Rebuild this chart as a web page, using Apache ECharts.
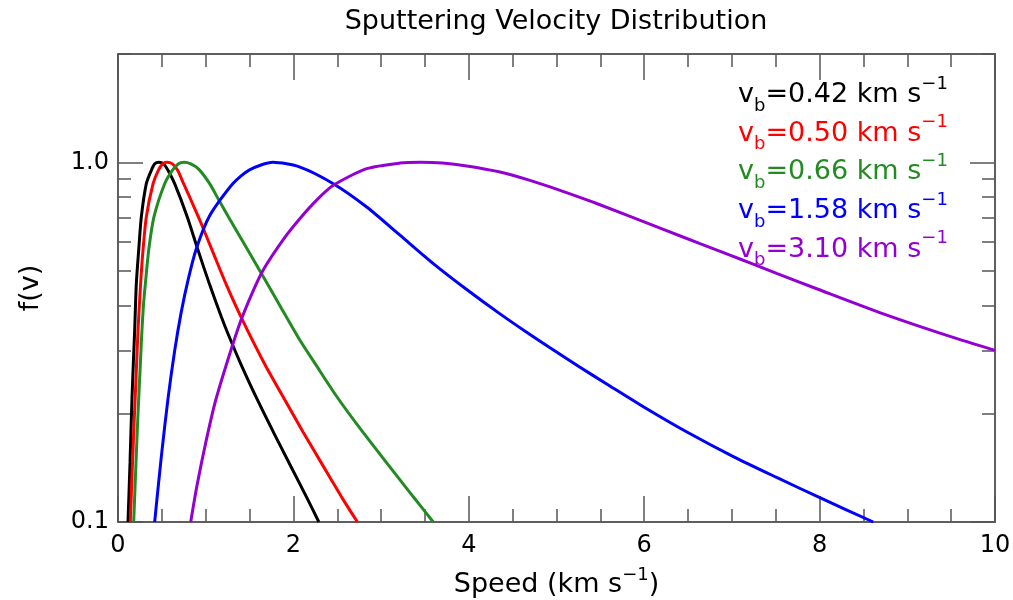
<!DOCTYPE html>
<html>
<head>
<meta charset="utf-8">
<title>Sputtering Velocity Distribution</title>
<script src="https://cdn.jsdelivr.net/npm/echarts@6/dist/echarts.min.js"></script>
<style>
  html, body { margin: 0; padding: 0; background: #fff; }
  #chart { width: 1013px; height: 600px; }
</style>
</head>
<body>
<div id="chart"></div>
<script>
// f(v), pairs of [speed (km/s), f(v)]
const vb042 = [
  [0.114, 0.1], [0.137, 0.146], [0.16, 0.223], [0.19, 0.341], [0.209, 0.46],
  [0.236, 0.57], [0.266, 0.705], [0.323, 0.872], [0.38, 0.95], [0.42, 0.99],
  [0.464, 1.0], [0.52, 0.99], [0.57, 0.95], [0.646, 0.872], [0.79, 0.705],
  [0.912, 0.57], [1.045, 0.457], [1.178, 0.372], [1.247, 0.337], [1.406, 0.273],
  [1.596, 0.217], [1.786, 0.175], [1.976, 0.142], [2.167, 0.115], [2.29, 0.1]
];
const vb050 = [
  [0.14, 0.1], [0.18, 0.18], [0.205, 0.25], [0.228, 0.341], [0.258, 0.46],
  [0.285, 0.57], [0.323, 0.705], [0.40, 0.872], [0.46, 0.95], [0.51, 0.99],
  [0.559, 1.0], [0.62, 0.99], [0.68, 0.95], [0.741, 0.88], [0.84, 0.777],
  [0.931, 0.692], [1.083, 0.562], [1.235, 0.457], [1.406, 0.37], [1.672, 0.275],
  [1.90, 0.219], [2.11, 0.178], [2.34, 0.143], [2.566, 0.1156], [2.73, 0.1]
];
const vb066 = [
  [0.179, 0.1], [0.205, 0.146], [0.228, 0.2], [0.25, 0.26], [0.27, 0.33],
  [0.29, 0.40], [0.312, 0.46], [0.35, 0.57], [0.41, 0.705], [0.532, 0.872],
  [0.62, 0.95], [0.69, 0.99], [0.753, 1.0], [0.83, 0.99], [0.92, 0.957],
  [1.045, 0.872], [1.15, 0.785], [1.26, 0.705], [1.48, 0.57], [1.645, 0.486],
  [1.85, 0.398], [2.075, 0.32], [2.246, 0.276], [2.49, 0.224], [2.76, 0.182],
  [3.064, 0.146], [3.367, 0.1175], [3.595, 0.1]
];
const vb158 = [
  [0.418, 0.1], [0.494, 0.152], [0.57, 0.22], [0.646, 0.299], [0.72, 0.382],
  [0.80, 0.472], [0.893, 0.575], [1.045, 0.71], [1.311, 0.873], [1.5, 0.953],
  [1.767, 1.0], [2.075, 0.97], [2.455, 0.872], [2.836, 0.751], [3.215, 0.627],
  [3.595, 0.523], [3.976, 0.443], [4.356, 0.379], [4.698, 0.332], [4.926, 0.305],
  [5.25, 0.271], [5.572, 0.242], [6.0, 0.2085], [6.503, 0.177], [7.016, 0.152],
  [7.51, 0.133], [7.997, 0.117], [8.612, 0.1]
];
const vb310 = [
  [0.829, 0.1], [0.90, 0.126], [1.0, 0.166], [1.114, 0.218], [1.311, 0.313],
  [1.425, 0.376], [1.645, 0.496], [1.90, 0.617], [2.075, 0.698], [2.265, 0.785],
  [2.455, 0.863], [2.836, 0.96], [3.215, 0.995], [3.45, 1.0], [3.7, 0.995],
  [3.976, 0.977], [4.356, 0.94], [4.698, 0.891], [4.926, 0.854], [5.458, 0.768],
  [6.218, 0.651], [6.636, 0.594], [6.978, 0.552], [7.206, 0.525], [7.51, 0.491],
  [7.967, 0.445], [8.727, 0.379], [9.487, 0.328], [10.0, 0.30]
];

const curves = [vb042, vb050, vb066, vb158, vb310];
const vbLabels = ['0.42', '0.50', '0.66', '1.58', '3.10'];
const curveColors = ['#000000', '#ff0000', '#228b22', '#0000ff', '#9400d3'];

// tick values
const xMajorTicks = [0, 2, 4, 6, 8, 10];
const xMinorTicks = [0.5, 1, 1.5, 2.5, 3, 3.5, 4.5, 5, 5.5, 6.5, 7, 7.5, 8.5, 9, 9.5];
const yMajorTicks = [0.1, 1];
const yMinorTicks = [0.2, 0.3, 0.4, 0.5, 0.6, 0.7, 0.8, 0.9, 2];

const FONT = '"DejaVu Sans", "Liberation Sans", Arial, sans-serif';
const frame = { color: '#555', width: 1.5 };

function xAxisAt(pos, ticks, len, withLabels) {
  return {
    type: 'value',
    position: pos,
    min: 0,
    max: 10,
    interval: 2,
    axisLine: { show: true, onZero: false, lineStyle: frame },
    axisTick: { show: true, inside: true, length: len, customValues: ticks, lineStyle: frame },
    axisLabel: withLabels
      ? { customValues: xMajorTicks, color: '#000', fontSize: 24, fontFamily: FONT, margin: 12 }
      : { show: false },
    splitLine: { show: false }
  };
}

function yAxisAt(pos, ticks, len, withLabels) {
  return {
    type: 'log',
    logBase: 10,
    position: pos,
    min: 0.1,
    max: 2,
    axisLine: { show: true, onZero: false, lineStyle: frame },
    axisTick: { show: true, inside: true, length: len, customValues: ticks, lineStyle: frame },
    axisLabel: withLabels
      ? {
          customValues: yMajorTicks,
          formatter: (v) => Number(v).toFixed(1),
          color: '#000', fontSize: 24, fontFamily: FONT, margin: 9
        }
      : { show: false },
    splitLine: { show: false }
  };
}

const xAxes = [
  xAxisAt('bottom', xMajorTicks, 26, true),
  xAxisAt('bottom', xMinorTicks, 13, false),
  xAxisAt('top', xMajorTicks, 26, false),
  xAxisAt('top', xMinorTicks, 13, false)
];
xAxes[0].name = 'Speed (km s{sup|\u22121})';
xAxes[0].nameLocation = 'middle';
xAxes[0].nameGap = 44;
xAxes[0].nameTextStyle = {
  color: '#000', fontSize: 27, fontFamily: FONT, lineHeight: 38,
  rich: { sup: { fontSize: 18, fontFamily: FONT, lineHeight: 18, verticalAlign: 'top', color: '#000' } }
};

const yAxes = [
  yAxisAt('left', yMajorTicks, 25, true),
  yAxisAt('left', yMinorTicks, 13, false),
  yAxisAt('right', yMajorTicks, 25, false),
  yAxisAt('right', yMinorTicks, 13, false)
];
yAxes[0].name = 'f(v)';
yAxes[0].nameLocation = 'middle';
yAxes[0].nameGap = 74;
yAxes[0].nameTextStyle = { color: '#000', fontSize: 27, fontFamily: FONT };

const legendText = vbLabels.map((lab, i) => ({
  type: 'text',
  x: 738,
  y: 95 + i * 38.7,
  z: 10,
  style: {
    text: '{v|v}{b|b}{t|=' + lab + ' km s}{s|\u22121}',
    fill: curveColors[i],
    fontSize: 27,
    fontFamily: FONT,
    verticalAlign: 'middle',
    rich: {
      v: { fontSize: 27, fontFamily: FONT, lineHeight: 40, fill: curveColors[i] },
      t: { fontSize: 27, fontFamily: FONT, lineHeight: 40, fill: curveColors[i] },
      b: { fontSize: 18, fontFamily: FONT, lineHeight: 18, verticalAlign: 'bottom', fill: curveColors[i] },
      s: { fontSize: 18, fontFamily: FONT, lineHeight: 18, verticalAlign: 'top', fill: curveColors[i] }
    }
  }
}));

const chart = echarts.init(document.getElementById('chart'), null, { renderer: 'canvas' });
chart.setOption({
  animation: false,
  backgroundColor: '#fff',
  grid: { left: 118, right: 18, top: 54, bottom: 78, containLabel: false, outerBoundsMode: 'none' },
  xAxis: xAxes,
  yAxis: yAxes,
  graphic: [
    {
      type: 'text',
      x: 556,
      y: 22,
      style: {
        text: 'Sputtering Velocity Distribution',
        fill: '#000',
        fontSize: 27,
        fontFamily: FONT,
        align: 'center',
        verticalAlign: 'middle'
      }
    }
  ].concat(legendText),
  series: curves.map((d, i) => ({
    type: 'line',
    name: 'vb=' + vbLabels[i],
    data: d,
    xAxisIndex: 0,
    yAxisIndex: 0,
    symbol: 'none',
    showSymbol: false,
    smooth: 0.25,
    clip: true,
    lineStyle: { color: curveColors[i], width: 3 },
    itemStyle: { color: curveColors[i] },
    emphasis: { disabled: true }
  }))
});
</script>
</body>
</html>
